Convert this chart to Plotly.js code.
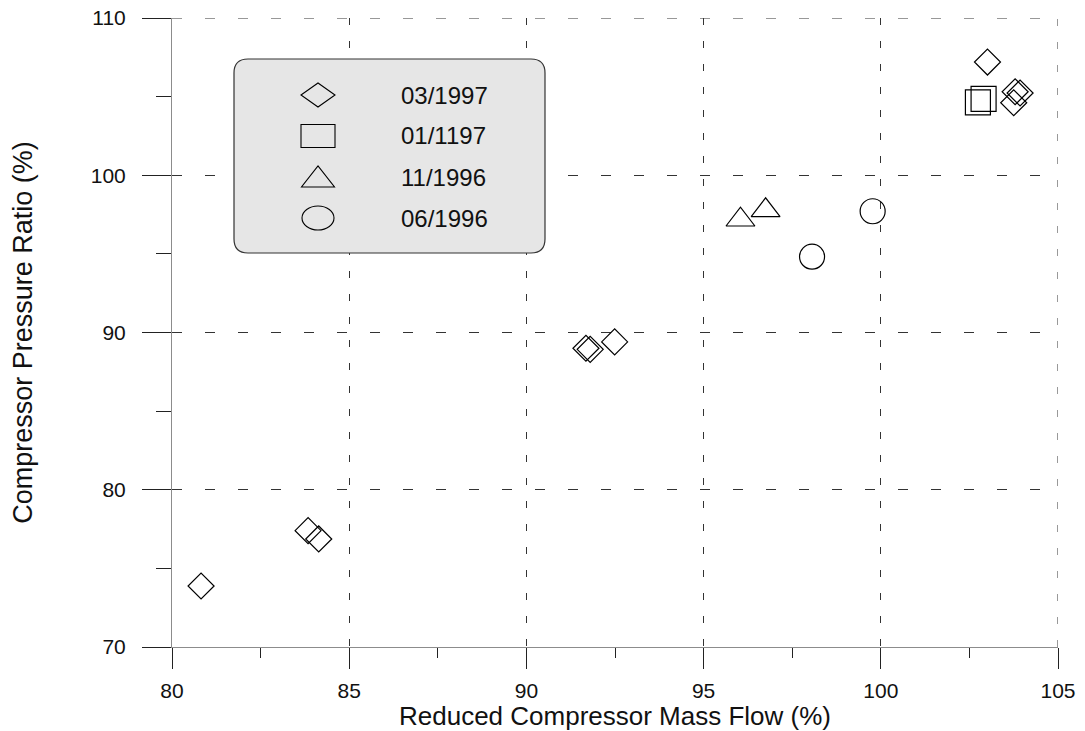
<!DOCTYPE html>
<html>
<head>
<meta charset="utf-8">
<script src="https://cdn.plot.ly/plotly-3.0.1.min.js"></script>
<style>html,body{margin:0;padding:0;background:#fff;}#chart{width:1085px;height:731px;}</style>
</head>
<body>
<div id="chart"></div>
<script>
// ---- data ----
const seriesNames = ["03/1997", "01/1197", "11/1996", "06/1996"];

const mar1997X = [80.82, 83.84, 84.14, 91.68, 91.80, 92.49, 103.01, 103.75, 103.79, 103.93];
const mar1997Y = [73.88, 77.40, 76.87, 89.00, 88.93, 89.40, 107.20, 104.61, 105.31, 105.23];

const jan1197X = [102.74, 102.90];
const jan1197Y = [104.63, 104.86];

const nov1996X = [96.04, 96.75];
const nov1996Y = [97.17, 97.77];

const jun1996X = [98.06, 99.77];
const jun1996Y = [94.82, 97.71];

const xTickVals = [80, 85, 90, 95, 100, 105];
const yTickVals = [70, 80, 90, 100, 110];
const xRange = [80, 105];
const yRange = [70, 110];

// ---- styling ----
const FONT = "Liberation Sans, Arial, sans-serif";
const symbols = ["diamond-open", "square-open", "triangle-up-open", "circle-open"];
const sizes = [20, 25, 25, 25];
const xs = [mar1997X, jan1197X, nov1996X, jun1996X];
const ys = [mar1997Y, jan1197Y, nov1996Y, jun1996Y];

const traces = seriesNames.map((n, i) => ({
  type: "scatter", mode: "markers", name: n, x: xs[i], y: ys[i],
  showlegend: false, cliponaxis: false,
  marker: { symbol: symbols[i], size: sizes[i], color: "#000", line: { color: "#000", width: 1.2 } }
}));

// plot-area pixel geometry (for the custom legend box only)
const L = 172, R = 1058, T = 18, B = 647;
const px = x => (x - L) / (R - L);
const py = y => (B - y) / (B - T);
const P = (x, y) => px(x).toFixed(5) + "," + py(y).toFixed(5);

const bx0 = 234, bx1 = 545, by0 = 59, by1 = 253, rr = 14;
const boxPath = "M" + P(bx0 + rr, by0) + " L" + P(bx1 - rr, by0) +
  " Q" + P(bx1, by0) + " " + P(bx1, by0 + rr) + " L" + P(bx1, by1 - rr) +
  " Q" + P(bx1, by1) + " " + P(bx1 - rr, by1) + " L" + P(bx0 + rr, by1) +
  " Q" + P(bx0, by1) + " " + P(bx0, by1 - rr) + " L" + P(bx0, by0 + rr) +
  " Q" + P(bx0, by0) + " " + P(bx0 + rr, by0) + " Z";

const gridCol = "#333";
const sx = 318;
const rowY = [95, 136, 177, 218];
const ln = { color: "#000", width: 1.1 };
const shapes = [
  // edge grid lines (top at y max, right at x max) that plotly omits at the range edges
  { type: "line", xref: "x", yref: "y", x0: xRange[0], x1: xRange[1], y0: yRange[1], y1: yRange[1], layer: "below",
    line: { color: gridCol, width: 1, dash: "10px,23px" } },
  { type: "line", xref: "x", yref: "y", x0: xRange[1], x1: xRange[1], y0: yRange[0], y1: yRange[1], layer: "below",
    line: { color: gridCol, width: 1, dash: "7px,16px" } },
  { type: "path", xref: "paper", yref: "paper", path: boxPath, fillcolor: "#e6e6e6", line: { color: "#333", width: 1.2 }, layer: "above" },
  { type: "path", xref: "paper", yref: "paper", line: ln,
    path: "M" + P(sx - 17, rowY[0]) + " L" + P(sx, rowY[0] - 12) + " L" + P(sx + 17, rowY[0]) + " L" + P(sx, rowY[0] + 12) + " Z" },
  { type: "rect", xref: "paper", yref: "paper", line: ln,
    x0: px(sx - 17), x1: px(sx + 17), y0: py(rowY[1] - 11.5), y1: py(rowY[1] + 11.5) },
  { type: "path", xref: "paper", yref: "paper", line: ln,
    path: "M" + P(sx - 16.5, rowY[2] + 10) + " L" + P(sx + 16.5, rowY[2] + 10) + " L" + P(sx, rowY[2] - 11) + " Z" },
  { type: "circle", xref: "paper", yref: "paper", line: ln,
    x0: px(sx - 16), x1: px(sx + 16), y0: py(rowY[3] - 12), y1: py(rowY[3] + 12) }
];

const annotations = seriesNames.map((n, i) => ({
  xref: "paper", yref: "paper", x: px(399), y: py(rowY[i]), xanchor: "left", yanchor: "middle",
  text: n, showarrow: false, font: { family: FONT, size: 24, color: "#111" }
}));

const layout = {
  width: 1085, height: 731,
  paper_bgcolor: "#fff", plot_bgcolor: "#fff",
  margin: { l: L, r: 1085 - R, t: T, b: 731 - B },
  showlegend: false,
  xaxis: {
    range: xRange, tickmode: "array", tickvals: xTickVals,
    showgrid: true, gridcolor: gridCol, gridwidth: 1, griddash: "7px,16px",
    showline: true, linecolor: "rgba(0,0,0,0.45)", linewidth: 1,
    ticks: "outside", ticklen: 21, tickcolor: "#222", tickwidth: 1,
    ticklabelstandoff: 4,
    minor: { ticks: "outside", ticklen: 10, dtick: 2.5, tick0: 80, tickcolor: "#222", showgrid: false },
    tickfont: { family: FONT, size: 21, color: "#111" },
    zeroline: false, automargin: false,
    title: { text: "Reduced Compressor Mass Flow (%)", font: { family: FONT, size: 26, color: "#111" }, standoff: 3 }
  },
  yaxis: {
    range: yRange, tickmode: "array", tickvals: yTickVals,
    showgrid: true, gridcolor: gridCol, gridwidth: 1, griddash: "10px,23px",
    showline: true, linecolor: "rgba(0,0,0,0.45)", linewidth: 1,
    ticks: "outside", ticklen: 29, tickcolor: "#222", tickwidth: 1,
    ticklabelstandoff: 12,
    minor: { ticks: "outside", ticklen: 15, dtick: 5, tick0: 70, tickcolor: "#222", showgrid: false },
    tickfont: { family: FONT, size: 21, color: "#111" },
    zeroline: false, automargin: false,
    title: { text: "Compressor Pressure Ratio (%)", font: { family: FONT, size: 27, color: "#111" }, standoff: 50 }
  },
  shapes: shapes,
  annotations: annotations
};

Plotly.newPlot("chart", traces, layout, { displayModeBar: false, staticPlot: true });
</script>
</body>
</html>
